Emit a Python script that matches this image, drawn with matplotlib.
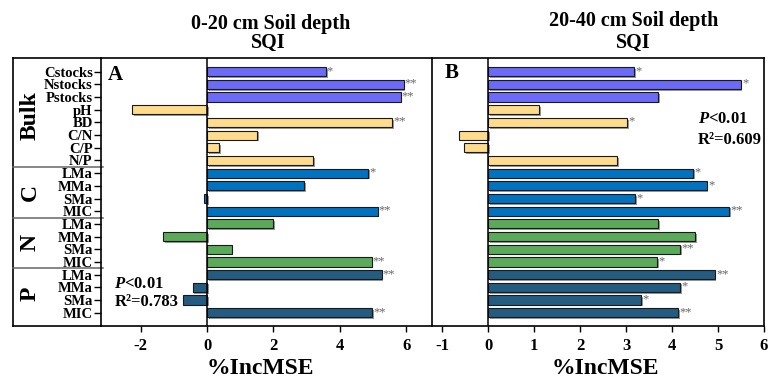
import matplotlib
matplotlib.use('Agg')
import matplotlib.pyplot as plt
import matplotlib.patheffects as pe
import numpy as np

plt.rcParams['font.family'] = ['Liberation Serif', 'DejaVu Serif']
plt.rcParams['font.weight'] = 'bold'
plt.rcParams['mathtext.fontset'] = 'custom'
plt.rcParams['mathtext.it'] = 'Liberation Serif:italic:bold'
plt.rcParams['mathtext.rm'] = 'Liberation Serif:bold'

# variables, top to bottom
labels = ['Cstocks', 'Nstocks', 'Pstocks', 'pH', 'BD', 'C/N', 'C/P', 'N/P',
          'LMa', 'MMa', 'SMa', 'MIC',
          'LMa', 'MMa', 'SMa', 'MIC',
          'LMa', 'MMa', 'SMa', 'MIC']
groups = ['Bulk', 'C', 'N', 'P']
group_sizes = [8, 4, 4, 4]

# %IncMSE, 0-20 cm
inc_top = [3.58, 5.93, 5.84, -2.27, 5.58, 1.50, 0.37, 3.20,
           4.86, 2.92, -0.09, 5.14,
           2.00, -1.32, 0.74, 4.96,
           5.26, -0.44, -0.74, 4.98]
sig_top = ['*', '**', '**', '', '**', '', '', '',
           '*', '', '', '**',
           '', '', '', '**',
           '**', '', '', '**']

# %IncMSE, 20-40 cm
inc_sub = [3.17, 5.49, 3.70, 1.11, 3.03, -0.64, -0.52, 2.80,
           4.46, 4.75, 3.20, 5.24,
           3.70, 4.51, 4.17, 3.68,
           4.93, 4.17, 3.33, 4.14]
sig_sub = ['*', '*', '', '', '*', '', '', '',
           '*', '*', '*', '**',
           '', '', '**', '*',
           '**', '*', '*', '**']

colors = (['#6b6bf7'] * 3 + ['#ffdb8c'] * 5 + ['#0072c0'] * 4
          + ['#5aaa5a'] * 4 + ['#235c80'] * 4)

W, H = 775, 382
fig = plt.figure(figsize=(W / 100, H / 100), dpi=100)


def fx(x):
    return x / W


def fy(y):
    return 1 - y / H


ax1 = fig.add_axes([fx(101), fy(326), fx(432 - 101), (326 - 58) / H])
ax2 = fig.add_axes([fx(432), fy(326), fx(764 - 432), (326 - 58) / H])

ypos = np.arange(len(labels))
shadow = [pe.SimplePatchShadow(offset=(1.2, -1.2), shadow_rgbFace='0.6', alpha=1), pe.Normal()]

for ax, vals, sig, xlim, ticks, lx in [(ax1, inc_top, sig_top, (-3.2, 6.78), [-2, 0, 2, 4, 6], 0.483),
                                       (ax2, inc_sub, sig_sub, (-1.22, 6.0), [-1, 0, 1, 2, 3, 4, 5, 6], 0.521)]:
    bars = ax.barh(ypos, vals, height=0.72, color=colors, edgecolor='#1a1a1a', linewidth=0.8)
    for b in bars:
        b.set_path_effects(shadow)
    for y, v, s in zip(ypos, vals, sig):
        if s:
            ax.text(v + 0.03, y - 0.05, s, fontsize=9, color='0.4', va='center', ha='left',
                    fontweight='normal')
    ax.axvline(0, color='black', lw=1.1)
    ax.set_xlim(*xlim)
    ax.set_ylim(20.05, -1.08)
    ax.set_xticks(ticks)
    ax.set_xticklabels([str(t) for t in ticks], fontsize=12, fontweight='bold')
    ax.tick_params(axis='x', length=4, width=1, pad=5)
    ax.set_xlabel('%IncMSE', fontsize=17, fontweight='bold', va='center')
    ax.xaxis.set_label_coords(lx, -0.157)
    for sp in ax.spines.values():
        sp.set_linewidth(1.2)

ax1.spines['right'].set_visible(False)
ax1.set_yticks(ypos)
ax1.set_yticklabels(labels, fontsize=10.5, fontweight='bold')
ax1.tick_params(axis='y', length=5, width=1, pad=1)
ax2.set_yticks([])

# group box on the left
xb = (13 - 101) / (432 - 101)
ax1.plot([xb, xb], [0, 1], transform=ax1.transAxes, color='black', lw=1.2, clip_on=False)
ax1.plot([xb, 0], [1, 1], transform=ax1.transAxes, color='black', lw=1.2, clip_on=False)
ax1.plot([xb, 0], [0, 0], transform=ax1.transAxes, color='black', lw=1.2, clip_on=False)
start = 0
ytr = ax1.get_yaxis_transform()
for g, n in zip(groups, group_sizes):
    if start > 0:
        ax1.plot([xb, 0.006], [start - 0.5, start - 0.5], transform=ytr, color='0.4',
                 lw=1.1, clip_on=False)
    ax1.text(-0.213, start + (n - 1) / 2, g, transform=ytr, rotation=90, fontsize=17,
             fontweight='bold', ha='center', va='center')
    start += n

# panel letters and stats
ax1.text(-3.0, 0.25, 'A', fontsize=15, fontweight='bold', va='center', ha='left')
ax2.text(-0.95, 0.1, 'B', fontsize=15, fontweight='bold', va='center', ha='left')
ax1.text(-2.8, 16.75, '$P$<0.01', fontsize=12, va='center', ha='left')
ax1.text(-2.8, 18.15, 'R²=0.783', fontsize=12, va='center', ha='left')
ax2.text(4.57, 3.75, '$P$<0.01', fontsize=12, va='center', ha='left')
ax2.text(4.57, 5.4, 'R²=0.609', fontsize=12, va='center', ha='left')

# titles
fig.text(fx(271), fy(24), '0-20 cm Soil depth', fontsize=14.5, fontweight='bold', ha='center', va='center')
fig.text(fx(268), fy(43), 'SQI', fontsize=14.5, fontweight='bold', ha='center', va='center')
fig.text(fx(634), fy(21), '20-40 cm Soil depth', fontsize=14.5, fontweight='bold', ha='center', va='center')
fig.text(fx(633), fy(43), 'SQI', fontsize=14.5, fontweight='bold', ha='center', va='center')

fig.savefig('out.png', dpi=100)
